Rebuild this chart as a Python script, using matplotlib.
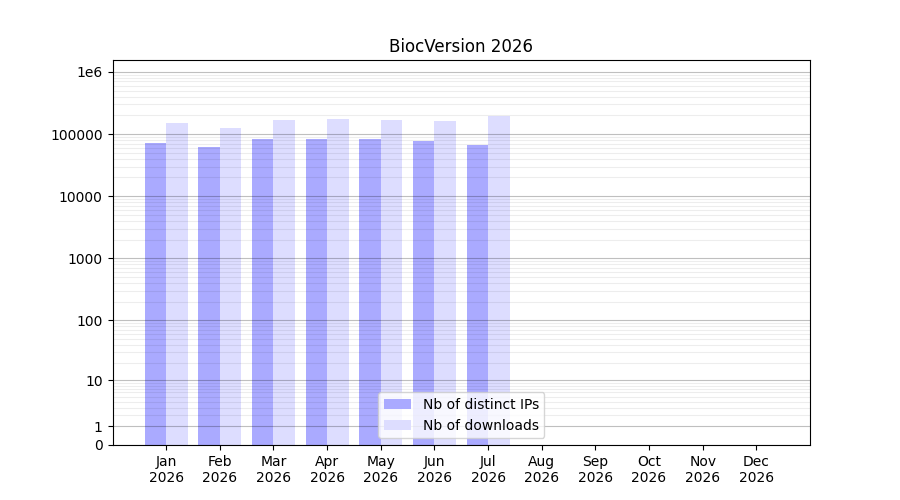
import matplotlib
matplotlib.use('Agg')
import matplotlib.pyplot as plt
import numpy as np
from matplotlib.ticker import FixedLocator

months = ['Jan', 'Feb', 'Mar', 'Apr', 'May', 'Jun', 'Jul', 'Aug', 'Sep', 'Oct', 'Nov', 'Dec']
year = 2026
distinct_ips = [71600, 61700, 83000, 83000, 83000, 77000, 66500, 0, 0, 0, 0, 0]
downloads = [150400, 125000, 168000, 175000, 168000, 162000, 195000, 0, 0, 0, 0, 0]

def fwd(v):
    return np.log10(np.maximum(v, 0) + 1)

def inv(y):
    return 10 ** y - 1

x = np.arange(1, 13)
fig, ax = plt.subplots(figsize=(9, 5), dpi=100)
ax.set_yscale('function', functions=(fwd, inv))

# IPs a gauche du tick, downloads a droite
ax.bar(x - 0.2, distinct_ips, width=0.4, color='#aaaaff', label='Nb of distinct IPs')
ax.bar(x + 0.2, downloads, width=0.4, color='#ddddff', label='Nb of downloads')

major = [0, 1, 10, 100, 1000, 10000, 100000, 1000000]
ax.set_yticks(major)
ax.set_yticklabels(['0', '1', '10', '100', '1000', '10000', '100000', '1e6'])
minor = [m * 10 ** d for d in range(0, 6) for m in range(2, 10)]
ax.yaxis.set_minor_locator(FixedLocator(minor))
ax.tick_params(axis='y', which='minor', length=0)
ax.grid(axis='y', which='major', color='black', alpha=0.25, linewidth=0.8)
ax.grid(axis='y', which='minor', color='black', alpha=0.07, linewidth=0.8)

ax.set_ylim(0, inv(6.19))
ax.set_xlim(0, 13)
ax.set_xticks(x)
ax.set_xticklabels([f'{m}\n{year}' for m in months])
ax.set_title(f'BiocVersion {year}')
ax.legend(loc='lower center')

plt.savefig('out.png')
